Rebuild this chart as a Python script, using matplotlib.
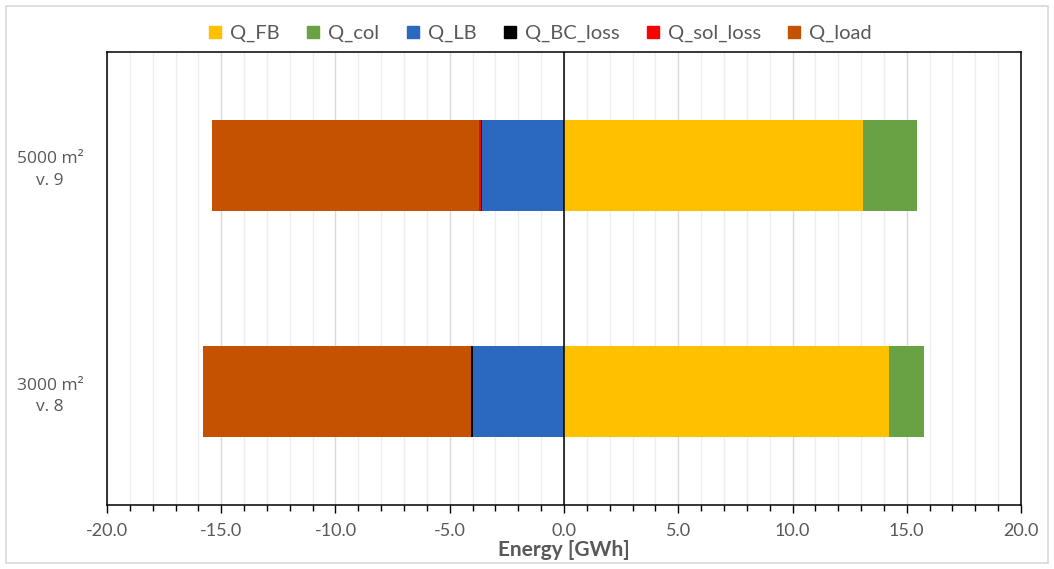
import matplotlib.pyplot as plt
import numpy as np
from matplotlib.lines import Line2D
from matplotlib.patches import Rectangle

# data (GWh), bottom category first
cases = ["3000 m²\nv. 8", "5000 m²\nv. 9"]
q_fb = [14.22, 13.07]
q_col = [1.55, 2.37]
q_lb = [-4.00, -3.61]
q_bc_loss = [-0.07, -0.01]
q_sol_loss = [-0.01, -0.08]
q_load = [-11.72, -11.72]

series = ["Q_FB", "Q_col", "Q_LB", "Q_BC_loss", "Q_sol_loss", "Q_load"]
colors = ["#FFC000", "#69A145", "#2B69C1", "#000000", "#FF0000", "#C45200"]

plt.rcParams["font.family"] = ["Lato", "DejaVu Sans"]
txt = "#595959"

fig = plt.figure(figsize=(10.54, 5.69), dpi=100)
ax = fig.add_axes([0.1015, 0.1125, 0.8672, 0.7961])

y = np.arange(len(cases))
h = 0.4

# positive stack
left = np.zeros(len(cases))
for vals, c in zip([q_fb, q_col], colors[:2]):
    ax.barh(y, vals, height=h, left=left, color=c, linewidth=0, zorder=3)
    left += np.array(vals)

# negative stack
left = np.zeros(len(cases))
for vals, c in zip([q_lb, q_bc_loss, q_sol_loss, q_load], colors[2:]):
    ax.barh(y, vals, height=h, left=left, color=c, linewidth=0, zorder=3)
    left += np.array(vals)

ax.axvline(0, color="black", lw=1.1, zorder=4)

ax.set_xlim(-20, 20)
ax.set_ylim(-0.5, 1.5)
ax.set_xticks(np.arange(-20, 21, 5))
ax.set_xticklabels([f"{v:.1f}" for v in np.arange(-20, 21, 5)])
ax.set_xticks(np.arange(-20, 21, 1), minor=True)
ax.grid(which="minor", axis="x", color="#eeeeee", lw=1, zorder=0)
ax.grid(which="major", axis="x", color="#d9d9d9", lw=1, zorder=0)
ax.tick_params(axis="x", which="major", length=6, width=1, color="black",
               labelsize=13, labelcolor=txt, pad=7)
ax.tick_params(axis="x", which="minor", length=4, width=1, color="black")

ax.set_yticks(y)
ax.set_yticklabels(cases, family=["Open Sans", "DejaVu Sans"], linespacing=1.45)
ax.tick_params(axis="y", length=0, labelsize=12.5, labelcolor=txt, pad=41)
for lab in ax.get_yticklabels():
    lab.set_horizontalalignment("center")
    lab.set_multialignment("center")

for s in ax.spines.values():
    s.set_color("black")
    s.set_linewidth(1.1)

ax.set_xlabel("Energy [GWh]", fontsize=15, fontweight="bold", color=txt, labelpad=1)

handles = [Line2D([], [], marker="s", ls="", markersize=9, color=c) for c in colors]
fig.legend(handles, series, loc="center", bbox_to_anchor=(0.509, 0.941), ncol=6,
           frameon=False, fontsize=14.5, handletextpad=0.05, columnspacing=0.95,
           handlelength=1.4, labelcolor=txt)

fig.patches.append(Rectangle((0.006, 0.011), 0.988, 0.978, transform=fig.transFigure,
                             fill=False, edgecolor="#d9d9d9", lw=1.2))

fig.savefig("out.png", dpi=100)
